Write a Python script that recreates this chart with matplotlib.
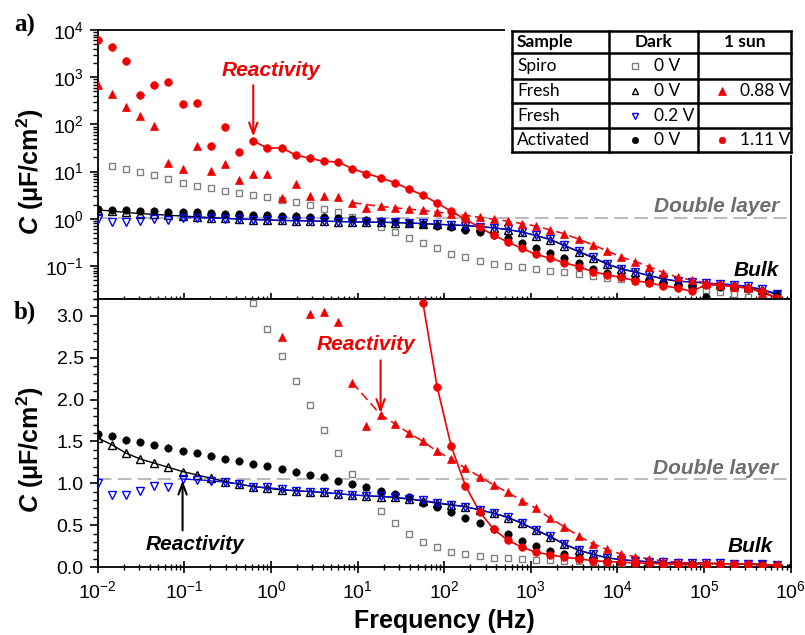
# Capacitance vs frequency, two stacked panels (log and linear C) with a legend table

import numpy as np
import matplotlib

matplotlib.use("Agg")
import matplotlib.pyplot as plt  # noqa: E402
from matplotlib.patches import Rectangle  # noqa: E402
from matplotlib.ticker import FormatStrFormatter, LogLocator, MultipleLocator, NullFormatter  # noqa: E402

plt.rcParams["font.family"] = ["Liberation Sans", "DejaVu Sans"]
plt.rcParams["mathtext.fontset"] = "custom"
plt.rcParams["mathtext.rm"] = "Liberation Sans"
plt.rcParams["mathtext.it"] = "Liberation Sans:italic"
plt.rcParams["mathtext.bf"] = "Liberation Sans:bold"
plt.rcParams["mathtext.bfit"] = "Liberation Sans:italic:bold"

W, H = 805, 635
RED = "#f00000"
BLUE = "#0000ff"
GREY = "#808080"

nan = np.nan

# measurement grid: 50 log-spaced frequencies, 0.01 Hz .. 1 MHz
freq = np.logspace(-2, 6, 50)

# capacitance in uF/cm2
spiro_dark = np.array([
    nan, 13.3, 11.4, 9.8, 8.3, 6.9, 5.8, 5.0, 4.4, 3.9,
    3.5, 3.15, 2.84, 2.52, 2.22, 1.93, 1.64, 1.36, 1.11, 0.88,
    0.67, 0.52, 0.40, 0.30, 0.235, 0.18, 0.153, 0.128, 0.112, 0.102,
    0.094, 0.086, 0.080, 0.075, 0.068, 0.062, 0.056, 0.052, 0.048, 0.044,
    0.041, 0.038, 0.035, 0.031, 0.028, 0.025, 0.022, 0.019, 0.017, nan])

fresh_dark = np.array([
    1.54, 1.46, 1.36, 1.29, 1.24, 1.19, 1.14, 1.10, 1.06, 1.02,
    0.99, 0.96, 0.94, 0.92, 0.91, 0.90, 0.89, 0.875, 0.86, 0.85,
    0.84, 0.83, 0.81, 0.79, 0.76, 0.74, 0.72, 0.68, 0.64, 0.59,
    0.52, 0.44, 0.36, 0.27, 0.20, 0.15, 0.11, 0.086, 0.074, 0.062,
    0.053, 0.047, 0.046, 0.043, 0.041, 0.040, 0.036, 0.031, 0.025, nan])

fresh_02v = np.array([
    1.00, 0.86, 0.86, 0.91, 0.97, 0.96, 1.05, 1.04, 1.03, 1.01,
    0.99, 0.96, 0.95, 0.93, 0.91, 0.90, 0.89, 0.875, 0.86, 0.85,
    0.845, 0.835, 0.815, 0.795, 0.77, 0.745, 0.72, 0.685, 0.645, 0.595,
    0.525, 0.445, 0.365, 0.275, 0.205, 0.155, 0.112, 0.088, 0.075, 0.063,
    0.054, 0.048, 0.046, 0.044, 0.042, 0.040, 0.037, 0.032, 0.026, nan])

activated_dark = np.array([
    1.59, 1.56, 1.52, 1.49, 1.46, 1.42, 1.39, 1.36, 1.32, 1.29,
    1.26, 1.23, 1.21, 1.17, 1.13, 1.10, 1.07, 1.03, 0.99, 0.95,
    0.91, 0.87, 0.83, 0.77, 0.72, 0.66, 0.59, 0.52, 0.45, 0.39,
    0.31, 0.245, 0.19, 0.15, 0.115, 0.087, 0.070, 0.060, 0.053, 0.048,
    0.044, 0.040, 0.036, 0.022, 0.036, 0.035, 0.033, 0.030, 0.025, 0.002])

fresh_sun = np.array([
    700, 435, 237, 151, 94, 15, 11.5, 34, 10.4, 14.3,
    6.6, 9.1, 9.1, 2.75, 5.5, 3.02, 3.04, 2.93, 2.2, 1.68,
    1.82, 1.71, 1.60, 1.50, 1.38, 1.29, 1.18, 1.08, 0.98, 0.89,
    0.79, 0.70, 0.58, 0.48, 0.37, 0.28, 0.21, 0.155, 0.124, 0.097,
    0.072, 0.058, 0.050, 0.044, 0.040, 0.036, 0.034, 0.027, 0.021, nan])

activated_sun = np.array([
    6150, 4450, 2200, 410, 700, 790, 270, 280, 35, 88,
    26, 45, 31, 32, 22.4, 19.1, 16.4, 16.0, 11.5, 9.1,
    7.4, 5.8, 4.27, 3.15, 2.15, 1.44, 0.97, 0.66, 0.45, 0.32,
    0.235, 0.175, 0.146, 0.117, 0.097, 0.076, 0.065, 0.057, 0.049, 0.044,
    0.038, 0.034, 0.029, 0.040, 0.039, 0.037, 0.034, 0.029, 0.021, nan])

double_layer = 1.05

# indices of the guide lines drawn through the data
fit_fresh_dark = list(range(0, 49))
fit_fresh_02v = list(range(6, 49))
fit_activated_sun = list(range(11, 49))
fit_fresh_sun = [18] + list(range(20, 49))

table_samples = ["Spiro", "Fresh", "Fresh", "Activated"]
table_dark = ["0 V", "0 V", "0.2 V", "0 V"]
table_sun = ["", "0.88 V", "", "1.11 V"]

STYLE = {
    "spiro": dict(marker="s", ms=4.6, mfc="none", mec=GREY, mew=1.0),
    "fresh_dark": dict(marker="^", ms=5.6, mfc="none", mec="black", mew=1.0),
    "fresh_02v": dict(marker="v", ms=5.6, mfc="none", mec=BLUE, mew=1.0),
    "act_dark": dict(marker="o", ms=5.3, mfc="black", mec="black", mew=0.5),
    "fresh_sun": dict(marker="^", ms=6.0, mfc=RED, mec=RED, mew=0.5),
    "act_sun": dict(marker="o", ms=5.5, mfc=RED, mec=RED, mew=0.5),
}


def fx(x):
    return x / W


def fy(y):
    return 1 - y / H


def draw_data(ax):
    ax.axhline(double_layer, color="#b4b4b4", lw=1.3, ls=(0, (7.5, 3.5)), zorder=1)
    ax.plot(freq[fit_fresh_dark], fresh_dark[fit_fresh_dark], color="black", lw=1.0, zorder=2)
    ax.plot(freq[fit_fresh_02v], fresh_02v[fit_fresh_02v], color=BLUE, lw=0.8, zorder=2)
    ax.plot(freq[fit_activated_sun], activated_sun[fit_activated_sun], color=RED, lw=1.2, zorder=2)
    ax.plot(freq[fit_fresh_sun], fresh_sun[fit_fresh_sun], color=RED, lw=1.1,
            ls=(0, (6, 3)), zorder=2)
    ax.plot(freq, spiro_dark, ls="none", zorder=3, **STYLE["spiro"])
    ax.plot(freq, activated_dark, ls="none", zorder=3, **STYLE["act_dark"])
    ax.plot(freq, fresh_dark, ls="none", zorder=4, **STYLE["fresh_dark"])
    ax.plot(freq, fresh_02v, ls="none", zorder=4, **STYLE["fresh_02v"])
    ax.plot(freq, fresh_sun, ls="none", zorder=5, **STYLE["fresh_sun"])
    ax.plot(freq, activated_sun, ls="none", zorder=5, **STYLE["act_sun"])


def style_axes(ax):
    for spine in ax.spines.values():
        spine.set_linewidth(1.3)
    ax.set_xscale("log")
    ax.set_xlim(1e-2, 1e6)
    ax.xaxis.set_major_locator(LogLocator(base=10, numticks=20))
    ax.xaxis.set_minor_locator(LogLocator(base=10, subs=np.arange(2, 10), numticks=20))
    ax.xaxis.set_minor_formatter(NullFormatter())
    ax.tick_params(axis="x", which="major", direction="inout", length=9, width=1.2,
                   top=False, labelsize=14, pad=5)
    ax.tick_params(axis="x", which="minor", direction="inout", length=5, width=1.0, top=False)
    ax.tick_params(axis="y", which="major", direction="out", length=6, width=1.2,
                   right=False, labelsize=14, pad=4)
    ax.tick_params(axis="y", which="minor", direction="out", length=3.5, width=1.0, right=False)


fig = plt.figure(figsize=(W / 100, H / 100), dpi=100)
fig.patch.set_facecolor("white")

ax_w = (790.7 - 97.7) / W
ax1 = fig.add_axes([fx(97.7), fy(299), ax_w, (299 - 30) / H])
ax2 = fig.add_axes([fx(97.7), fy(567), ax_w, (567 - 299) / H])

for ax in (ax1, ax2):
    draw_data(ax)
    style_axes(ax)

ax1.set_yscale("log")
ax1.set_ylim(10 ** -1.7, 1e4)
ax1.yaxis.set_major_locator(LogLocator(base=10, numticks=20))
ax1.yaxis.set_minor_locator(LogLocator(base=10, subs=np.arange(2, 10), numticks=20))
ax1.yaxis.set_minor_formatter(NullFormatter())
ax1.tick_params(axis="x", which="both", labelbottom=False)

ax2.set_ylim(0, 3.2)
ax2.yaxis.set_major_locator(MultipleLocator(0.5))
ax2.yaxis.set_minor_locator(MultipleLocator(0.1))
ax2.yaxis.set_major_formatter(FormatStrFormatter("%.1f"))

# axis labels
ylab = r"$\mathbfit{C}$ (μF/$\mathbf{cm^{2}}$)"
fig.text(fx(30), fy(172), ylab, rotation=90, ha="center", va="center",
         fontsize=18, fontweight="bold")
fig.text(fx(30), fy(450), ylab, rotation=90, ha="center", va="center",
         fontsize=18, fontweight="bold")
fig.text(fx(444), fy(628), "Frequency (Hz)", ha="center", va="baseline",
         fontsize=18, fontweight="bold")

# panel letters
fig.text(fx(14), fy(25), "a)", family="Liberation Serif", fontsize=18,
         fontweight="bold", va="center", ha="left")
fig.text(fx(14), fy(312), "b)", family="Liberation Serif", fontsize=18,
         fontweight="bold", va="center", ha="left")

ann = dict(fontsize=15, fontweight="bold", style="italic", va="center")
fig.text(fx(222), fy(71), "Reactivity", color=RED, ha="left", **ann)
fig.text(fx(779), fy(206), "Double layer", color="#6e6e6e", ha="right", **ann)
fig.text(fx(779), fy(270), "Bulk", color="black", ha="right", **ann)
fig.text(fx(317), fy(345), "Reactivity", color=RED, ha="left", **ann)
fig.text(fx(146), fy(545), "Reactivity", color="black", ha="left", **ann)
fig.text(fx(778), fy(468), "Double layer", color="#6e6e6e", ha="right", **ann)
fig.text(fx(773), fy(547), "Bulk", color="black", ha="right", **ann)

arrow = "->,head_length=0.8,head_width=0.3"
ax1.annotate("", xy=(freq[11], activated_sun[11]), xytext=(0, 40), textcoords="offset points",
             arrowprops=dict(arrowstyle=arrow, color=RED, lw=1.5, shrinkA=0, shrinkB=3))
ax2.annotate("", xy=(freq[20], fresh_sun[20]), xytext=(0, 39), textcoords="offset points",
             arrowprops=dict(arrowstyle=arrow, color=RED, lw=1.5, shrinkA=0, shrinkB=1))
ax2.annotate("", xy=(freq[6], fresh_02v[6]), xytext=(0, -37), textcoords="offset points",
             arrowprops=dict(arrowstyle=arrow, color="black", lw=1.5, shrinkA=0, shrinkB=1))

# legend table in the upper right corner of panel a)
x0, x1 = 505.0, 790.7
y0, y1 = 31.0, 151.7
tab = fig.add_axes([fx(x0), fy(y1), (x1 - x0) / W, (y1 - y0) / H])
tab.set_xlim(x0, x1)
tab.set_ylim(y1, y0)
tab.axis("off")
tab.add_patch(Rectangle((x0, y0 - 3), x1 - x0 + 2, y1 - y0 + 6, facecolor="white",
                        edgecolor="none", clip_on=False, zorder=0))

col_edges = [511.7, 609.3, 698.3, 790.7]
row_edges = [31.0, 53.3, 79.0, 103.3, 128.3, 151.7]
for xe in col_edges:
    tab.plot([xe, xe], [row_edges[0], row_edges[-1]], color="black", lw=1.8,
             clip_on=False, solid_capstyle="projecting")
for ye in row_edges:
    tab.plot([col_edges[0], col_edges[-1]], [ye, ye], color="black", lw=1.8,
             clip_on=False, solid_capstyle="projecting")

tfont = dict(family=["Lato", "DejaVu Sans"], fontsize=12.5, va="center")
hy = (row_edges[0] + row_edges[1]) / 2
tab.text(517, hy, "Sample", ha="left", fontweight="bold", **tfont)
tab.text((col_edges[1] + col_edges[2]) / 2, hy, "Dark", ha="center", fontweight="bold", **tfont)
tab.text((col_edges[2] + col_edges[3]) / 2, hy, "1 sun", ha="center", fontweight="bold", **tfont)

dark_marks = ["spiro", "fresh_dark", "fresh_02v", "act_dark"]
sun_marks = [None, "fresh_sun", None, "act_sun"]
for r, (name, dark, sun) in enumerate(zip(table_samples, table_dark, table_sun)):
    yc = (row_edges[r + 1] + row_edges[r + 2]) / 2
    tab.text(517, yc, name, ha="left", **tfont)
    st = dict(STYLE[dark_marks[r]])
    st["ms"] = st["ms"] * 0.85
    tab.plot([635], [yc], ls="none", clip_on=False, **st)
    tab.text(654, yc, dark, ha="left", **tfont)
    if sun_marks[r]:
        st = dict(STYLE[sun_marks[r]])
        st["ms"] = st["ms"] * 0.85
        tab.plot([722], [yc], ls="none", clip_on=False, **st)
        tab.text(740, yc, sun, ha="left", **tfont)

fig.savefig("out.png", dpi=100)
plt.close(fig)
